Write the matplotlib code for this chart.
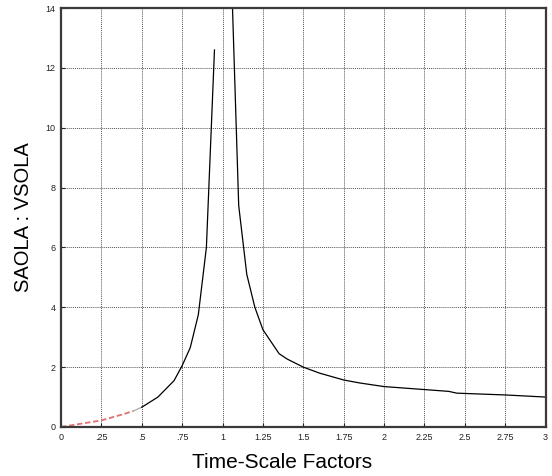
import numpy as np
import matplotlib
matplotlib.use("Agg")
import matplotlib.pyplot as plt

plt.rcParams['font.family'] = ['Liberation Sans', 'DejaVu Sans']

# start of the curve (drawn red dashed, then a short grey bit)
x_start = [0, 0.25, 0.4, 0.45]
y_start = [0, 0.22, 0.45, 0.54]
x_grey = [0.45, 0.5]
y_grey = [0.54, 0.66]

# left branch up to the peak
x_left = [0.5, 0.6, 0.7, 0.75, 0.8, 0.85, 0.9, 0.95]
y_left = [0.66, 1.0, 1.55, 2.05, 2.65, 3.75, 6.0, 12.6]

# right branch after the peak
x_right = [1.05, 1.1, 1.15, 1.2, 1.25, 1.3, 1.35, 1.4, 1.5, 1.6, 1.75, 1.85,
           2.0, 2.2, 2.4, 2.45, 2.75, 3.0]
y_right = [16, 7.4, 5.1, 4.0, 3.25, 2.85, 2.45, 2.27, 2.0, 1.8, 1.57, 1.47,
           1.35, 1.27, 1.19, 1.13, 1.07, 1.0]

xticks = [0, 0.25, 0.5, 0.75, 1, 1.25, 1.5, 1.75, 2, 2.25, 2.5, 2.75, 3]
xticklabels = ['0', '.25', '.5', '.75', '1', '1.25', '1.5', '1.75', '2', '2.25', '2.5', '2.75', '3']
yticks = [0, 2, 4, 6, 8, 10, 12, 14]

fig = plt.figure(figsize=(5.52, 4.76), dpi=100)
ax = fig.add_axes([0.1105, 0.103, 0.878, 0.880])

ax.plot(x_start, y_start, color='#e07070', lw=1.3, ls=(0, (3, 1.5)))
ax.plot(x_grey, y_grey, color='#b0b0b0', lw=1.0)
ax.plot(x_left, y_left, color='black', lw=0.9)
ax.plot(x_right, y_right, color='black', lw=0.9)

ax.set_xlim(0, 3)
ax.set_ylim(0, 14)
ax.set_xticks(xticks)
ax.set_xticklabels(xticklabels)
ax.set_yticks(yticks)
ax.tick_params(direction='in', length=3, labelsize=6.5, colors='#222222', pad=4)

ax.grid(True, color='#555555', ls=(0, (1, 1)), lw=0.7)
for s in ax.spines.values():
    s.set_color('#3a3a3a')
    s.set_linewidth(1.6)

# x label sits a bit left of the axes centre in the original
fig.text(0.511, 0.017, 'Time-Scale Factors', fontsize=15, ha='center', va='baseline')
ax.set_ylabel('SAOLA : VSOLA', fontsize=14.5, labelpad=9)

fig.savefig('out.png', dpi=100)
